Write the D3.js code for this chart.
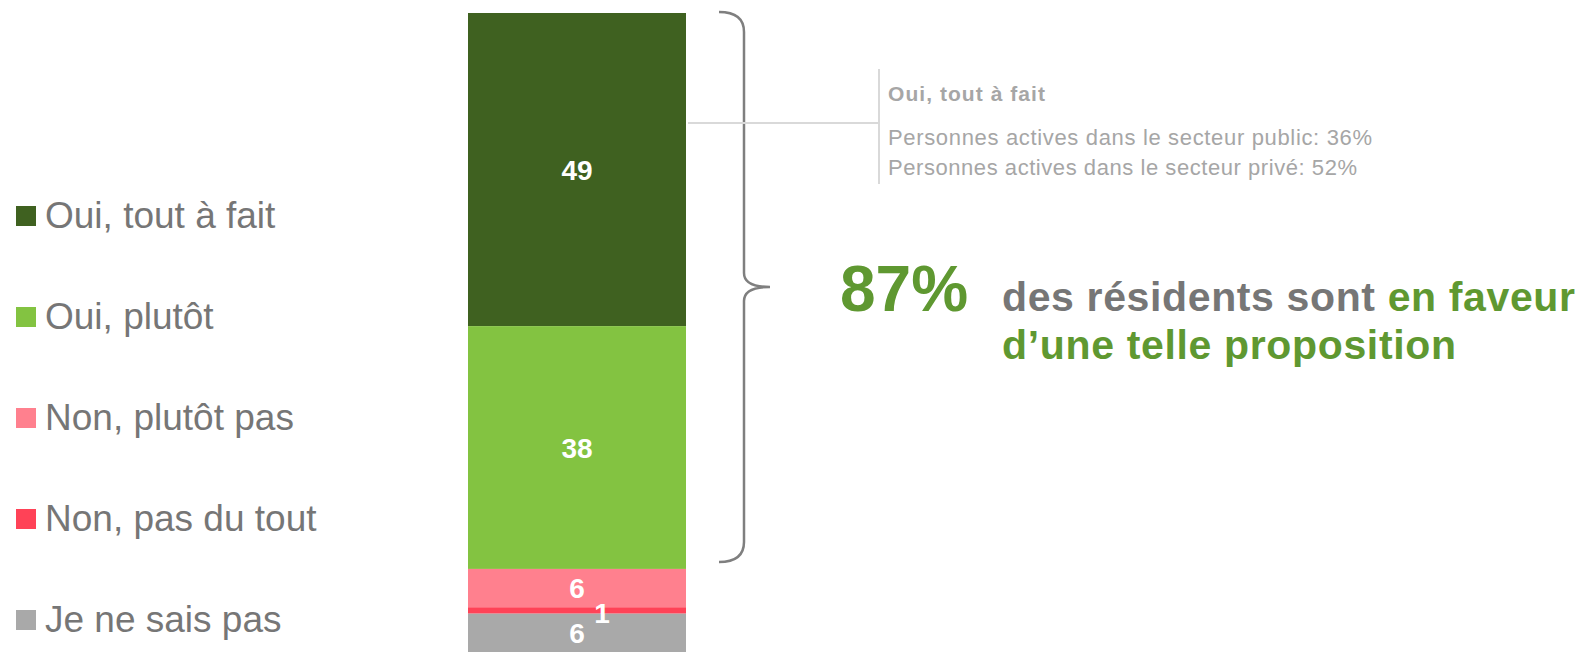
<!DOCTYPE html>
<html>
<head>
<meta charset="utf-8">
<script src="https://cdn.jsdelivr.net/npm/d3@7"></script>
<style>
  body { margin: 0; background: #fff; }
  svg { display: block; font-family: "Liberation Sans", Arial, sans-serif; }
</style>
</head>
<body>
<div id="main"></div>
<script>
// answer categories (top to bottom of the bar)
var categories = ['Oui, tout à fait', 'Oui, plutôt', 'Non, plutôt pas', 'Non, pas du tout', 'Je ne sais pas'];
var values = [49, 38, 6, 1, 6];
var colors = ['#3f6120', '#83c341', '#ff808e', '#ff4257', '#a9a9a9'];

// callout texts
var calloutTitle = 'Oui, tout à fait';
var calloutLines = ['Personnes actives dans le secteur public: 36%', 'Personnes actives dans le secteur privé: 52%'];
var bigValue = '87%';

var width = 1584, height = 652;

var svg = d3.select('#main').append('svg')
    .attr('width', width)
    .attr('height', height);

// stacked positions
var stack = [];
var acc = 0;
values.forEach(function (v, i) {
    stack.push({ key: categories[i], value: v, y0: acc, y1: acc + v, color: colors[i] });
    acc += v;
});

var xScale = d3.scaleBand().domain(['all']).range([468, 686]).padding(0);
var yScale = d3.scaleLinear().domain([0, 100]).range([13, 652]);

// bar segments
svg.selectAll('rect.seg')
    .data(stack)
    .enter()
    .append('rect')
    .attr('class', 'seg')
    .attr('x', xScale('all'))
    .attr('width', xScale.bandwidth())
    .attr('y', function (d) { return yScale(d.y0); })
    .attr('height', function (d) { return yScale(d.y1) - yScale(d.y0); })
    .attr('fill', function (d) { return d.color; });

// value labels (tiny segment gets its label shifted right)
var cx = xScale('all') + xScale.bandwidth() / 2;
svg.selectAll('text.val')
    .data(stack)
    .enter()
    .append('text')
    .attr('class', 'val')
    .attr('x', function (d) { return d.value < 3 ? cx + 25 : cx; })
    .attr('y', function (d) { return (yScale(d.y0) + yScale(d.y1)) / 2 + (d.value < 3 ? 13 : 10); })
    .attr('text-anchor', 'middle')
    .attr('fill', '#fff')
    .attr('font-weight', 'bold')
    .attr('font-size', '28px')
    .text(function (d) { return d.value; });

// legend
var legend = svg.selectAll('g.leg')
    .data(stack)
    .enter()
    .append('g')
    .attr('class', 'leg')
    .attr('transform', function (d, i) { return 'translate(16,' + (216 + i * 101) + ')'; });

legend.append('rect')
    .attr('x', 0).attr('y', -10)
    .attr('width', 20).attr('height', 20)
    .attr('fill', function (d) { return d.color; });

legend.append('text')
    .attr('x', 29).attr('y', 12)
    .attr('font-size', '37px')
    .attr('fill', '#767676')
    .text(function (d) { return d.key; });

// brace over the "oui" answers
var bTop = yScale(0) - 1;
var bBot = yScale(stack[1].y1) - 7;
var bMid = (bTop + bBot) / 2;
var bx = 744, r = 20;
var brace = d3.path();
brace.moveTo(bx - 25, bTop);
brace.quadraticCurveTo(bx, bTop, bx, bTop + r);
brace.lineTo(bx, bMid - 14);
brace.quadraticCurveTo(bx, bMid, bx + 26, bMid);
brace.quadraticCurveTo(bx, bMid, bx, bMid + 14);
brace.lineTo(bx, bBot - r);
brace.quadraticCurveTo(bx, bBot, bx - 25, bBot);
svg.append('path')
    .attr('d', brace.toString())
    .attr('fill', 'none')
    .attr('stroke', '#7f7f7f')
    .attr('stroke-width', 2.5);

// callout connector
svg.append('line')
    .attr('x1', 688).attr('x2', 879)
    .attr('y1', 123).attr('y2', 123)
    .attr('stroke', '#d9d9d9').attr('stroke-width', 2);
svg.append('line')
    .attr('x1', 879).attr('x2', 879)
    .attr('y1', 69).attr('y2', 184)
    .attr('stroke', '#d9d9d9').attr('stroke-width', 2);

svg.append('text')
    .attr('x', 888).attr('y', 101)
    .attr('font-size', '21px').attr('font-weight', 'bold')
    .attr('fill', '#a6a6a6')
    .attr('textLength', 157).attr('lengthAdjust', 'spacing')
    .text(calloutTitle);

var lineLen = [484, 469];
svg.selectAll('text.call')
    .data(calloutLines)
    .enter()
    .append('text')
    .attr('class', 'call')
    .attr('x', 888)
    .attr('y', function (d, i) { return 145 + i * 30; })
    .attr('font-size', '22px')
    .attr('fill', '#a6a6a6')
    .attr('textLength', function (d, i) { return lineLen[i]; })
    .attr('lengthAdjust', 'spacing')
    .text(function (d) { return d; });

// headline
svg.append('text')
    .attr('x', 840).attr('y', 311)
    .attr('font-size', '64px').attr('font-weight', 'bold')
    .attr('fill', '#5f9831')
    .text(bigValue);

var h1 = svg.append('text')
    .attr('x', 1002).attr('y', 311)
    .attr('font-size', '41px').attr('font-weight', 'bold')
    .attr('textLength', 573).attr('lengthAdjust', 'spacing');
h1.append('tspan').attr('fill', '#767676').text('des résidents sont ');
h1.append('tspan').attr('fill', '#5f9831').text('en faveur');

svg.append('text')
    .attr('x', 1002).attr('y', 359)
    .attr('font-size', '41px').attr('font-weight', 'bold')
    .attr('fill', '#5f9831')
    .attr('textLength', 454).attr('lengthAdjust', 'spacing')
    .text('d’une telle proposition');
</script>
</body>
</html>
